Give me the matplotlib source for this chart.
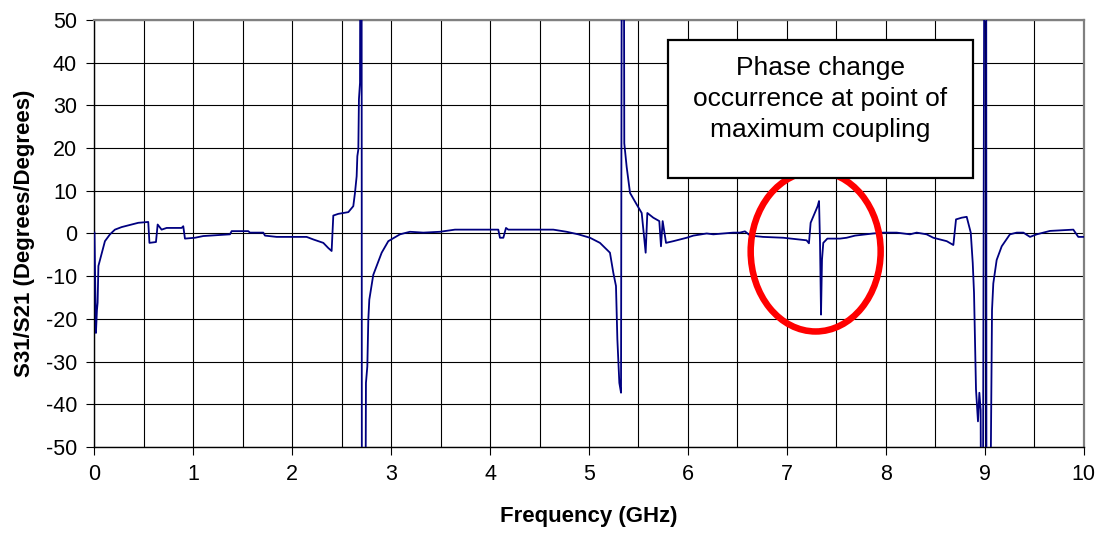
import matplotlib
matplotlib.use('Agg')
import matplotlib.pyplot as plt
from matplotlib.patches import Ellipse, Rectangle
from matplotlib.ticker import MultipleLocator

freq = [
    0.000, 0.015, 0.025, 0.032, 0.040, 0.070, 0.106, 0.157, 0.207, 0.275,
    0.359, 0.443, 0.544, 0.556, 0.622, 0.639, 0.679, 0.730, 0.881, 0.898,
    0.915, 1.016, 1.100, 1.370, 1.387, 1.555, 1.572, 1.707, 1.724, 1.842,
    2.145, 2.213, 2.314, 2.364, 2.398, 2.415, 2.466, 2.567, 2.617, 2.634,
    2.651, 2.658, 2.668, 2.674, 2.685, 2.695, 2.700, 2.705, 2.735, 2.742,
    2.745, 2.759, 2.769, 2.779, 2.819, 2.904, 2.971, 3.089, 3.190,
    3.325, 3.493, 3.645, 4.083, 4.100, 4.134, 4.161, 4.184, 4.639, 4.774,
    4.892, 5.010, 5.111, 5.212, 5.246, 5.273, 5.287, 5.307, 5.324, 5.337,
    5.347, 5.357, 5.381, 5.415, 5.482, 5.533, 5.573, 5.590, 5.650, 5.711,
    5.728, 5.745, 5.779, 5.853, 5.988, 6.055, 6.190, 6.257, 6.459, 6.526,
    6.577, 6.630, 6.760, 6.965, 7.116, 7.200, 7.224, 7.241, 7.275, 7.312,
    7.326, 7.336, 7.346, 7.356, 7.369, 7.410, 7.538, 7.605, 7.690, 7.874,
    7.976, 8.111, 8.246, 8.313, 8.414, 8.481, 8.617, 8.684, 8.711, 8.769,
    8.819, 8.860, 8.880, 8.893, 8.913, 8.933, 8.947, 8.960, 8.975, 9.005,
    9.015, 9.020, 9.050, 9.060, 9.075, 9.088, 9.122, 9.173, 9.256, 9.325,
    9.392, 9.459, 9.527, 9.661, 9.897, 9.947, 10.000,
]
phase = [
    0.2, -23.3, -18.0, -16.2, -7.6, -5.0, -1.8, -0.2, 0.9, 1.5,
    2.0, 2.5, 2.7, -2.2, -2.0, 2.1, 0.9, 1.3, 1.3, 1.7,
    -1.2, -1.0, -0.6, -0.2, 0.55, 0.55, 0.2, 0.2, -0.5, -0.8,
    -0.8, -1.4, -2.2, -3.4, -4.1, 4.2, 4.6, 5.0, 6.4, 9.5,
    13.4, 18.1, 19.7, 31.4, 35.3, 150.0, 150.0, -150.0, -150.0, -55.0,
    -35.0, -31.1, -20.1, -15.5, -9.7, -4.5, -1.8, -0.2, 0.4,
    0.2, 0.4, 0.9, 0.9, -1.0, -1.0, 1.3, 0.9, 0.9, 0.4,
    -0.2, -1.0, -2.2, -4.5, -9.2, -12.3, -24.8, -35.0, -37.3, 150.0,
    150.0, 21.1, 15.6, 9.5, 6.8, 4.8, -4.5, 4.8, 3.7, 2.9,
    -3.0, 2.9, -2.2, -1.8, -1.0, -0.5, 0.0, -0.2, 0.2, 0.2,
    0.5, -0.5, -0.8, -1.0, -1.4, -1.6, -2.3, 2.5, 4.4, 6.4,
    7.6, -2.2, -19.0, -6.1, -2.2, -1.2, -1.2, -1.0, -0.5, 0.0,
    0.2, 0.2, -0.2, 0.2, -0.2, -1.0, -1.8, -2.7, 3.3, 3.7,
    3.9, 0.2, -6.9, -13.9, -36.5, -44.0, -37.3, -41.3, -150.0, 150.0,
    150.0, -150.0, -150.0, -60.0, -17.9, -11.7, -6.2, -3.0, -0.2, 0.2,
    0.2, -0.8, -0.2, 0.6, 0.9, -0.8, -0.8,
]

note_lines = ['Phase change', 'occurrence at point of', 'maximum coupling']


def style_axes(ax):
    """Excel-like frame, grid and ticks"""
    ax.set_xlim(0, 10)
    ax.set_ylim(-50, 50)
    ax.xaxis.set_major_locator(MultipleLocator(1))
    ax.xaxis.set_minor_locator(MultipleLocator(0.5))
    ax.yaxis.set_major_locator(MultipleLocator(10))
    ax.grid(which='major', color='black', lw=0.8, zorder=0)
    ax.grid(which='minor', axis='x', color='black', lw=0.8, zorder=0)
    ax.set_axisbelow(True)
    ax.tick_params(which='major', direction='out', length=5.5, width=0.8,
                   labelsize=15.5, pad=7)
    ax.tick_params(axis='x', pad=7)
    ax.tick_params(which='minor', length=0)
    for side in ('left', 'bottom'):
        ax.spines[side].set_color('black')
        ax.spines[side].set_linewidth(1.0)
    for side in ('top', 'right'):
        ax.spines[side].set_color('#808080')
        ax.spines[side].set_linewidth(1.6)


def add_note(ax):
    """Text box and red circle around the phase jump"""
    box = Rectangle((0.580, 0.629), 0.308, 0.324, transform=ax.transAxes,
                    facecolor='white', edgecolor='black', lw=1.6, zorder=5)
    ax.add_patch(box)
    for text, y in zip(note_lines, (0.871, 0.799, 0.727)):
        ax.text(0.734, y, text, transform=ax.transAxes, ha='center',
                va='baseline', fontsize=19, zorder=6)
    ring = Ellipse((7.292, -4.2), 1.314, 37.5, facecolor='none',
                   edgecolor='#ff0000', lw=4.7, zorder=4)
    ax.add_patch(ring)


def main():
    plt.rcParams['font.family'] = ['Liberation Sans', 'DejaVu Sans']
    plt.rcParams['axes.unicode_minus'] = False
    fig = plt.figure(figsize=(10.97, 5.33), dpi=100)
    ax = fig.add_axes([0.0861, 0.1614, 0.9016, 0.8011])

    ax.plot(freq, phase, color='#000080', lw=1.3, zorder=3)
    style_axes(ax)
    add_note(ax)

    ax.set_xlabel('Frequency (GHz)', fontsize=16, fontweight='bold', labelpad=15)
    ax.set_ylabel('S31/S21 (Degrees/Degrees)', fontsize=16, fontweight='bold',
                  labelpad=8)

    fig.savefig('out.png', dpi=100)


if __name__ == "__main__":
    main()
